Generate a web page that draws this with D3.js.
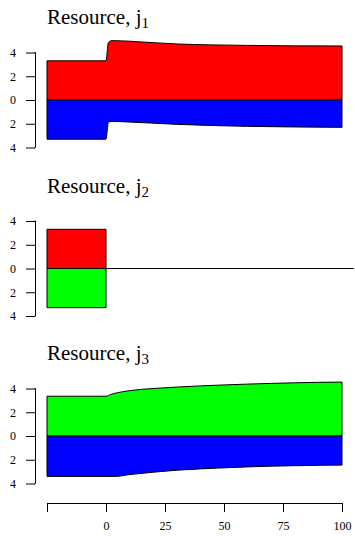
<!DOCTYPE html>
<html>
<head>
<meta charset="utf-8">
<script src="https://cdn.jsdelivr.net/npm/d3@7"></script>
<style>
  html, body { margin: 0; padding: 0; background: #fff; }
  svg { display: block; font-family: "Liberation Serif", "Times New Roman", serif; }
</style>
</head>
<body>
<svg id="chart" width="355" height="536"></svg>
<script>
// Resource j1: upper (red) and lower (blue) bands over time
const time1 = [-25, 0, 1, 2.5, 10, 20, 30, 45, 60, 80, 100];
const upper1 = [3.3, 3.3, 4.85, 5.0, 4.95, 4.83, 4.72, 4.64, 4.6, 4.56, 4.55];
const lower1 = [3.3, 3.3, 1.85, 1.8, 1.86, 1.95, 2.05, 2.15, 2.22, 2.27, 2.3];

// Resource j2: exists only before time 0
const time2 = [-25, 0];
const upper2 = [3.3, 3.3];
const lower2 = [3.3, 3.3];

// Resource j3: upper (green) and lower (blue) bands over time
const time3 = [-25, 0, 2, 5, 10, 20, 30, 40, 50, 60, 70, 80, 90, 100];
const upper3 = [3.35, 3.35, 3.5, 3.65, 3.82, 4.0, 4.12, 4.22, 4.3, 4.37, 4.43, 4.48, 4.52, 4.54];
const lower3t = [-25, 0, 4, 10, 20, 30, 40, 50, 60, 70, 80, 90, 100];
const lower3 = [3.4, 3.4, 3.4, 3.25, 3.05, 2.88, 2.77, 2.68, 2.6, 2.54, 2.5, 2.47, 2.45];

const yTicks = [-4, -2, 0, 2, 4];
const xTicks = [-25, 0, 25, 50, 75, 100];
const xTickLabels = ["", "0", "25", "50", "75", "100"];

const panels = [
  { sub: "1", zero: 100, bands: [
      { t: time1, v: upper1, sign: 1, fill: "#ff0000" },
      { t: time1, v: lower1, sign: -1, fill: "#0000ff" } ] },
  { sub: "2", zero: 268.5, bands: [
      { t: time2, v: upper2, sign: 1, fill: "#ff0000" },
      { t: time2, v: lower2, sign: -1, fill: "#00ff00" } ], baseline: true },
  { sub: "3", zero: 436, bands: [
      { t: time3, v: upper3, sign: 1, fill: "#00ff00" },
      { t: lower3t, v: lower3, sign: -1, fill: "#0000ff" } ] }
];

const svg = d3.select("#chart");

// Shared time scale; the plot region runs a little past the data on both sides
const x = d3.scaleLinear().domain([-25, 100]).range([47, 342]);
const plotLeft = x(-30), plotRight = x(105);

const halfSpan = 47.5; // pixels from 0 to +/-4

panels.forEach(p => {
  const y = d3.scaleLinear().domain([-4, 4]).range([p.zero + halfSpan, p.zero - halfSpan]);
  const g = svg.append("g");

  // Bands: each fills between zero and its boundary curve
  p.bands.forEach(b => {
    const pts = b.t.map((t, i) => [t, b.sign * b.v[i]]);
    const area = d3.area()
      .x(d => x(d[0]))
      .y0(y(0))
      .y1(d => y(d[1]))
      .curve(d3.curveMonotoneX);
    g.append("path")
      .attr("d", area(pts))
      .attr("fill", b.fill)
      .attr("stroke", "#000")
      .attr("stroke-width", 1)
      .attr("stroke-linejoin", "round");
  });

  if (p.baseline) {
    g.append("line")
      .attr("x1", x(0)).attr("x2", plotRight)
      .attr("y1", y(0)).attr("y2", y(0))
      .attr("stroke", "#000").attr("stroke-width", 1);
  }

  // Left axis showing magnitudes
  const yAxis = d3.axisLeft(y)
    .tickValues(yTicks)
    .tickSize(9)
    .tickPadding(10)
    .tickFormat(d => Math.abs(d));
  const ya = g.append("g")
    .attr("transform", `translate(${Math.round(plotLeft)},0)`)
    .call(yAxis);
  ya.select(".domain").attr("d", `M-0.5,${y(4)}H0.5V${y(-4)}H-0.5`).attr("stroke", "#000");
  ya.selectAll(".tick line").attr("stroke", "#000");
  ya.selectAll(".tick text")
    .attr("font-family", "Liberation Serif, serif")
    .attr("font-size", 12)
    .attr("fill", "#000");

  // Panel title with subscript
  const title = g.append("text")
    .attr("x", 47)
    .attr("y", p.zero - 76)
    .attr("font-size", 21)
    .attr("fill", "#000");
  title.append("tspan").text("Resource, j");
  title.append("tspan")
    .attr("font-size", 15)
    .attr("dy", 4)
    .text(p.sub);
});

// Bottom time axis
const xAxis = d3.axisBottom(x)
  .tickValues(xTicks)
  .tickSize(9)
  .tickPadding(9)
  .tickFormat((d, i) => xTickLabels[i]);
const xa = svg.append("g")
  .attr("transform", "translate(0,503)")
  .call(xAxis);
xa.select(".domain").attr("d", `M${x(-25)},0.5H${x(100)}`).attr("stroke", "#000");
xa.selectAll(".tick line").attr("stroke", "#000");
xa.selectAll(".tick text")
  .attr("font-family", "Liberation Serif, serif")
  .attr("font-size", 12)
  .attr("fill", "#000");
</script>
</body>
</html>
